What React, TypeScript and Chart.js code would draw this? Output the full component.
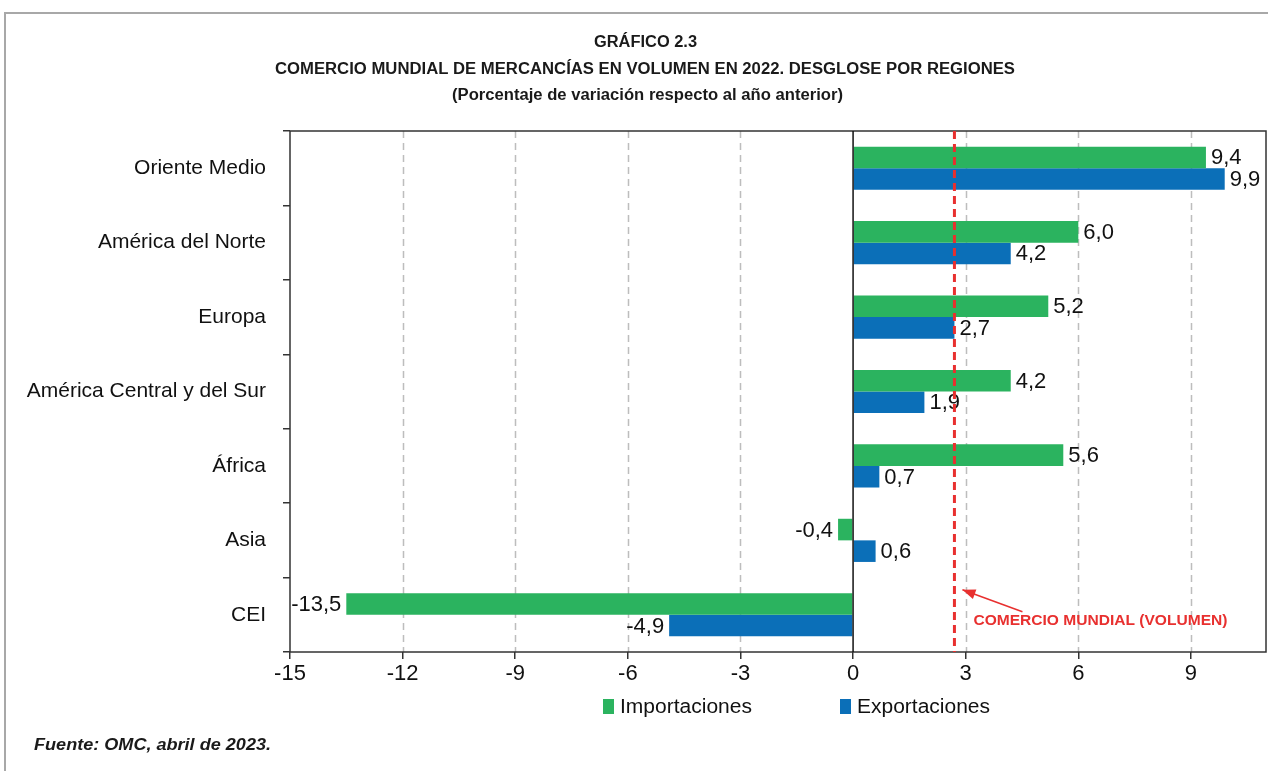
import React, { useEffect, useRef } from 'react';
import { Chart, registerables } from 'chart.js';

Chart.register(...registerables);

const categories = ['Oriente Medio', 'América del Norte', 'Europa', 'América Central y del Sur', 'África', 'Asia', 'CEI'];
const importaciones = [9.4, 6.0, 5.2, 4.2, 5.6, -0.4, -13.5];
const exportaciones = [9.9, 4.2, 2.7, 1.9, 0.7, 0.6, -4.9];
const seriesLabels = ['Importaciones', 'Exportaciones'];
const seriesColors = ['#2bb35f', '#0b6fb8'];
const comercioMundial = 2.7;
const xTicks = [-15, -12, -9, -6, -3, 0, 3, 6, 9];
const titleLines = [
  'GRÁFICO 2.3',
  'COMERCIO MUNDIAL DE MERCANCÍAS EN VOLUMEN EN 2022. DESGLOSE POR REGIONES',
  '(Porcentaje de variación respecto al año anterior)',
];
const sourceText = 'Fuente: OMC, abril de 2023.';
const annotationText = 'COMERCIO MUNDIAL (VOLUMEN)';

const fmt = (v: number) => v.toFixed(1).replace('.', ',');

function fitText(ctx: CanvasRenderingContext2D, text: string, x: number, y: number, font: string, width: number, align: CanvasTextAlign) {
  ctx.save();
  ctx.font = font;
  const m = ctx.measureText(text).width;
  const s = width / m;
  ctx.translate(x, y);
  ctx.scale(s, 1);
  ctx.textAlign = align;
  ctx.textBaseline = 'middle';
  ctx.fillText(text, 0, 0);
  ctx.restore();
}

const decorPlugin = {
  id: 'decor',
  beforeDatasetsDraw(chart: any) {
    const { ctx, chartArea } = chart;
    const xs = chart.scales.x;
    ctx.save();
    ctx.strokeStyle = '#bdbdbd';
    ctx.lineWidth = 1.5;
    ctx.setLineDash([7, 5]);
    for (const v of xTicks) {
      if (v === 0 || v === xTicks[0]) continue;
      const px = Math.round(xs.getPixelForValue(v)) + 0.5;
      ctx.beginPath();
      ctx.moveTo(px, chartArea.top);
      ctx.lineTo(px, chartArea.bottom);
      ctx.stroke();
    }
    ctx.restore();
  },
  afterDatasetsDraw(chart: any) {
    const { ctx, chartArea } = chart;
    const xs = chart.scales.x;
    const ys = chart.scales.y;
    ctx.save();
    // frame
    ctx.strokeStyle = '#333';
    ctx.lineWidth = 1.5;
    ctx.strokeRect(chartArea.left, chartArea.top, chartArea.right - chartArea.left, chartArea.bottom - chartArea.top);
    // zero line
    const zx = xs.getPixelForValue(0);
    ctx.strokeStyle = '#111';
    ctx.beginPath();
    ctx.moveTo(zx, chartArea.top);
    ctx.lineTo(zx, chartArea.bottom);
    ctx.stroke();

    // data labels
    ctx.fillStyle = '#111';
    ctx.font = '22px "Liberation Sans", Arial, sans-serif';
    ctx.textBaseline = 'middle';
    chart.data.datasets.forEach((ds: any, di: number) => {
      const meta = chart.getDatasetMeta(di);
      meta.data.forEach((bar: any, i: number) => {
        const v = ds.data[i];
        if (v >= 0) {
          ctx.textAlign = 'left';
          ctx.fillText(fmt(v), bar.x + 5, bar.y + 1);
        } else {
          ctx.textAlign = 'right';
          ctx.fillText(fmt(v), bar.x - 5, bar.y + 1);
        }
      });
    });

    // world trade line
    const lx = xs.getPixelForValue(comercioMundial);
    ctx.strokeStyle = '#e8302f';
    ctx.lineWidth = 3;
    ctx.setLineDash([8, 5]);
    ctx.beginPath();
    ctx.moveTo(lx, chartArea.top);
    ctx.lineTo(lx, chartArea.bottom);
    ctx.stroke();
    ctx.setLineDash([]);

    // arrow
    const cy = ys.getPixelForValue(categories.length - 1);
    const tipX = lx + 8, tipY = cy - 25;
    const tailX = lx + 68, tailY = cy - 3;
    ctx.strokeStyle = '#e8302f';
    ctx.fillStyle = '#e8302f';
    ctx.lineWidth = 1.5;
    ctx.beginPath();
    ctx.moveTo(tailX, tailY);
    ctx.lineTo(tipX, tipY);
    ctx.stroke();
    const ang = Math.atan2(tipY - tailY, tipX - tailX);
    const hl = 13, hw = 5;
    ctx.beginPath();
    ctx.moveTo(tipX, tipY);
    ctx.lineTo(tipX - hl * Math.cos(ang) + hw * Math.sin(ang), tipY - hl * Math.sin(ang) - hw * Math.cos(ang));
    ctx.lineTo(tipX - hl * Math.cos(ang) - hw * Math.sin(ang), tipY - hl * Math.sin(ang) + hw * Math.cos(ang));
    ctx.closePath();
    ctx.fill();
    fitText(ctx, annotationText, lx + 19, cy + 6, 'bold 15px "Liberation Sans", Arial, sans-serif', 254, 'left');
    ctx.restore();
  },
  afterDraw(chart: any) {
    const { ctx } = chart;
    ctx.save();
    // outer frame
    ctx.strokeStyle = '#a8a8a8';
    ctx.lineWidth = 2;
    ctx.beginPath();
    ctx.moveTo(5, 771);
    ctx.lineTo(5, 13);
    ctx.lineTo(1268, 13);
    ctx.stroke();

    ctx.fillStyle = '#1a1a1a';
    const tf = 'bold 16px "Liberation Sans Narrow", "Liberation Sans", Arial, sans-serif';
    fitText(ctx, titleLines[0], 645.5, 43, tf, 103, 'center');
    fitText(ctx, titleLines[1], 645, 70, tf, 740, 'center');
    fitText(ctx, titleLines[2], 647.5, 96, tf, 391, 'center');

    // legend
    const lf = '20px "Liberation Sans", Arial, sans-serif';
    ctx.fillStyle = seriesColors[0];
    ctx.fillRect(603, 699, 11, 15);
    ctx.fillStyle = '#111';
    fitText(ctx, seriesLabels[0], 620, 707, lf, 132, 'left');
    ctx.fillStyle = seriesColors[1];
    ctx.fillRect(840, 699, 11, 15);
    ctx.fillStyle = '#111';
    fitText(ctx, seriesLabels[1], 857, 707, lf, 133, 'left');

    // source
    ctx.fillStyle = '#1a1a1a';
    fitText(ctx, sourceText, 34, 746, 'italic bold 16px "Liberation Sans Narrow", "Liberation Sans", Arial, sans-serif', 237, 'left');
    ctx.restore();
  },
};

export default function App() {
  const ref = useRef<HTMLCanvasElement>(null);
  useEffect(() => {
    if (!ref.current) return;
    const chart = new Chart(ref.current, {
      type: 'bar',
      data: {
        labels: categories,
        datasets: [
          { label: seriesLabels[0], data: importaciones, backgroundColor: seriesColors[0], categoryPercentage: 0.58, barPercentage: 1.0 },
          { label: seriesLabels[1], data: exportaciones, backgroundColor: seriesColors[1], categoryPercentage: 0.58, barPercentage: 1.0 },
        ],
      },
      options: {
        indexAxis: 'y',
        animation: false,
        responsive: false,
        layout: { padding: { left: 0, right: 2, top: 131, bottom: 79 } },
        plugins: {
          legend: { display: false },
          title: { display: false },
          tooltip: { enabled: false },
        },
        scales: {
          x: {
            type: 'linear',
            min: -15,
            max: 11,
            afterBuildTicks: (scale: any) => {
              scale.ticks = xTicks.map((v) => ({ value: v }));
            },
            afterFit: (scale: any) => {
              scale.height = 40;
            },
            grid: { display: true, drawOnChartArea: false, drawTicks: true, tickLength: 7, color: '#333', lineWidth: 1.5 },
            border: { display: false },
            ticks: {
              autoSkip: false,
              maxRotation: 0,
              padding: 2,
              color: '#111',
              font: { size: 22, family: '"Liberation Sans", Arial, sans-serif' },
              callback: (v: any) => String(v),
            },
          },
          y: {
            type: 'category',
            afterFit: (scale: any) => {
              scale.width = 290;
            },
            grid: { display: true, offset: true, drawOnChartArea: false, drawTicks: true, tickLength: 7, color: '#333', lineWidth: 1.5 },
            border: { display: false },
            ticks: {
              padding: 17,
              color: '#111',
              font: { size: 21, family: '"Liberation Sans", Arial, sans-serif' },
            },
          },
        },
      },
      plugins: [decorPlugin],
    } as any);
    return () => chart.destroy();
  }, []);
  return (
    <div style={{ position: 'absolute', left: 0, top: 0, width: 1268, height: 771, background: '#fff' }}>
      <canvas ref={ref} width={1268} height={771} style={{ display: 'block' }} />
    </div>
  );
}
